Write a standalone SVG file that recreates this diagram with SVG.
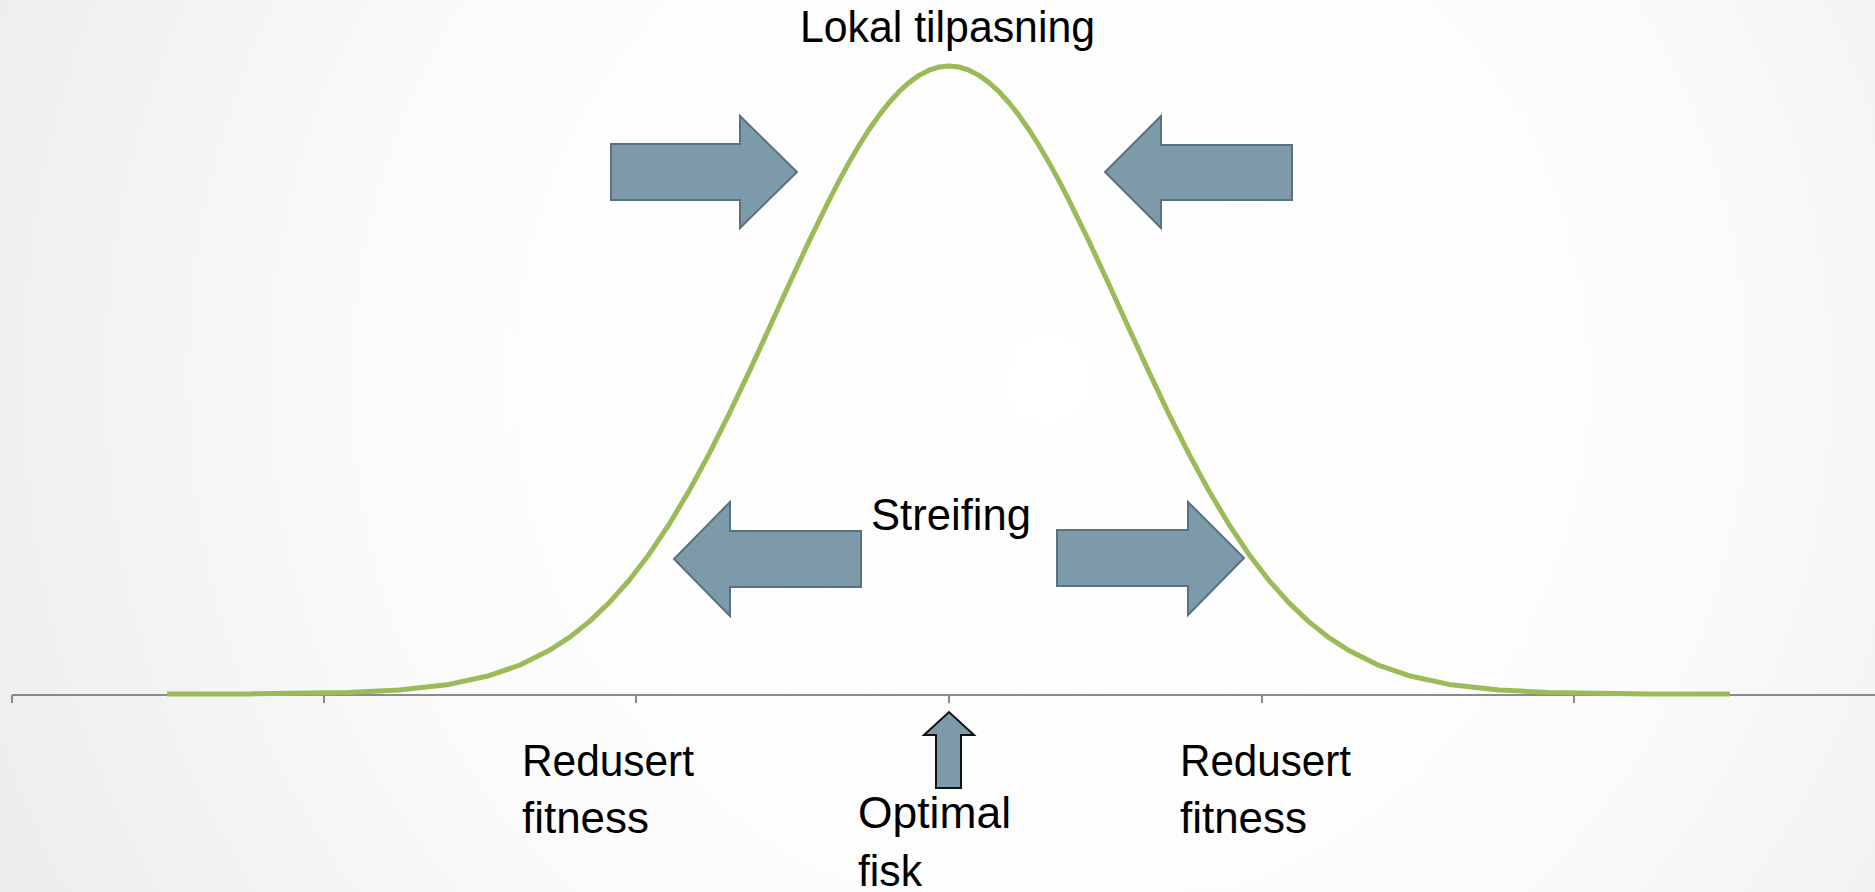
<svg xmlns="http://www.w3.org/2000/svg" width="1875" height="892" viewBox="0 0 1875 892">
  <defs>
    <radialGradient id="bg" cx="1050" cy="380" r="1150" gradientUnits="userSpaceOnUse">
      <stop offset="0" stop-color="#FFFFFF"/>
      <stop offset="0.55" stop-color="#FCFCFC"/>
      <stop offset="1" stop-color="#EDEDED"/>
    </radialGradient>
    <style>
      .lbl { font-family: "Liberation Sans", Arial, sans-serif; font-size: 45px; fill: #000000; }
      .arrow { fill: #7D9AAA; stroke: #5A717E; stroke-width: 2; stroke-linejoin: miter; }
      .arrow-up { fill: #7D9AAA; stroke: #111111; stroke-width: 2; }
      .axis { stroke: #8A8A8A; stroke-width: 2; fill: none; }
      .curve { stroke: #9BBB59; stroke-width: 5; fill: none; stroke-linejoin: round; stroke-linecap: butt; }
    </style>
  </defs>

  <rect x="0" y="0" width="1875" height="892" fill="url(#bg)"/>

  <g id="axis">
    <path class="axis" d="M12,695 H1875 M12,695 V703 M324,695 V703 M636,695 V703 M949,695 V703 M1262,695 V703 M1574,695 V703"/>
  </g>

  <g id="curve">
    <polyline class="curve" points="167,694 249,693.9 349,692.5 399,690 449,684.4 489,675.7 519,665.4 549,650.6 569,637.7 589,621.9 609,602.9 629,580.5 649,554.4 669,524.5 689,491 709,454.1 729,414.2 749,372.1 769,328.5 789,284.5 809,241.4 829,200.3 839,180.9 849,162.6 859,145.5 869,129.7 879,115.4 889,102.7 899,91.7 909,82.6 919,75.4 929,70.2 939,67 949,66 959,67 969,70.2 979,75.4 989,82.6 999,91.7 1009,102.7 1019,115.4 1029,129.7 1039,145.5 1049,162.6 1059,180.9 1069,200.3 1089,241.4 1109,284.5 1129,328.5 1149,372.1 1169,414.2 1189,454.1 1209,491 1229,524.5 1249,554.4 1269,580.5 1289,602.9 1309,621.9 1329,637.7 1349,650.6 1379,665.4 1409,675.7 1449,684.4 1499,690 1549,692.5 1649,693.9 1730,694"/>
  </g>

  <g id="connectors">
    <g id="arrow-top-left">
      <polygon class="arrow" points="611,144 740,144 740,116 797,172 740,228 740,200 611,200"/>
    </g>
    <g id="arrow-top-right">
      <polygon class="arrow" points="1292,145 1161,145 1161,116 1105,172 1161,228 1161,200 1292,200"/>
    </g>
    <g id="arrow-mid-left">
      <polygon class="arrow" points="861,531 730,531 730,502 674,559 730,616 730,587 861,587"/>
    </g>
    <g id="arrow-mid-right">
      <polygon class="arrow" points="1057,530 1188,530 1188,502 1244,558 1188,615 1188,586 1057,586"/>
    </g>
    <g id="arrow-up">
      <polygon class="arrow-up" points="936,788 936,735 924,735 949,712 974,735 961,735 961,788"/>
    </g>
  </g>

  <g id="label-lokal">
    <text class="lbl" x="800" y="42" textLength="295" lengthAdjust="spacingAndGlyphs">Lokal tilpasning</text>
  </g>
  <g id="label-streifing">
    <text class="lbl" x="871" y="530" textLength="160" lengthAdjust="spacingAndGlyphs">Streifing</text>
  </g>
  <g id="label-redusert-left">
    <text class="lbl" x="522" y="776" textLength="172" lengthAdjust="spacingAndGlyphs">Redusert</text>
    <text class="lbl" x="522" y="833" textLength="127" lengthAdjust="spacingAndGlyphs">fitness</text>
  </g>
  <g id="label-optimal">
    <text class="lbl" x="858" y="828" textLength="153" lengthAdjust="spacingAndGlyphs">Optimal</text>
    <text class="lbl" x="858" y="886" textLength="64" lengthAdjust="spacingAndGlyphs">fisk</text>
  </g>
  <g id="label-redusert-right">
    <text class="lbl" x="1180" y="776" textLength="171" lengthAdjust="spacingAndGlyphs">Redusert</text>
    <text class="lbl" x="1180" y="833" textLength="127" lengthAdjust="spacingAndGlyphs">fitness</text>
  </g>
</svg>
